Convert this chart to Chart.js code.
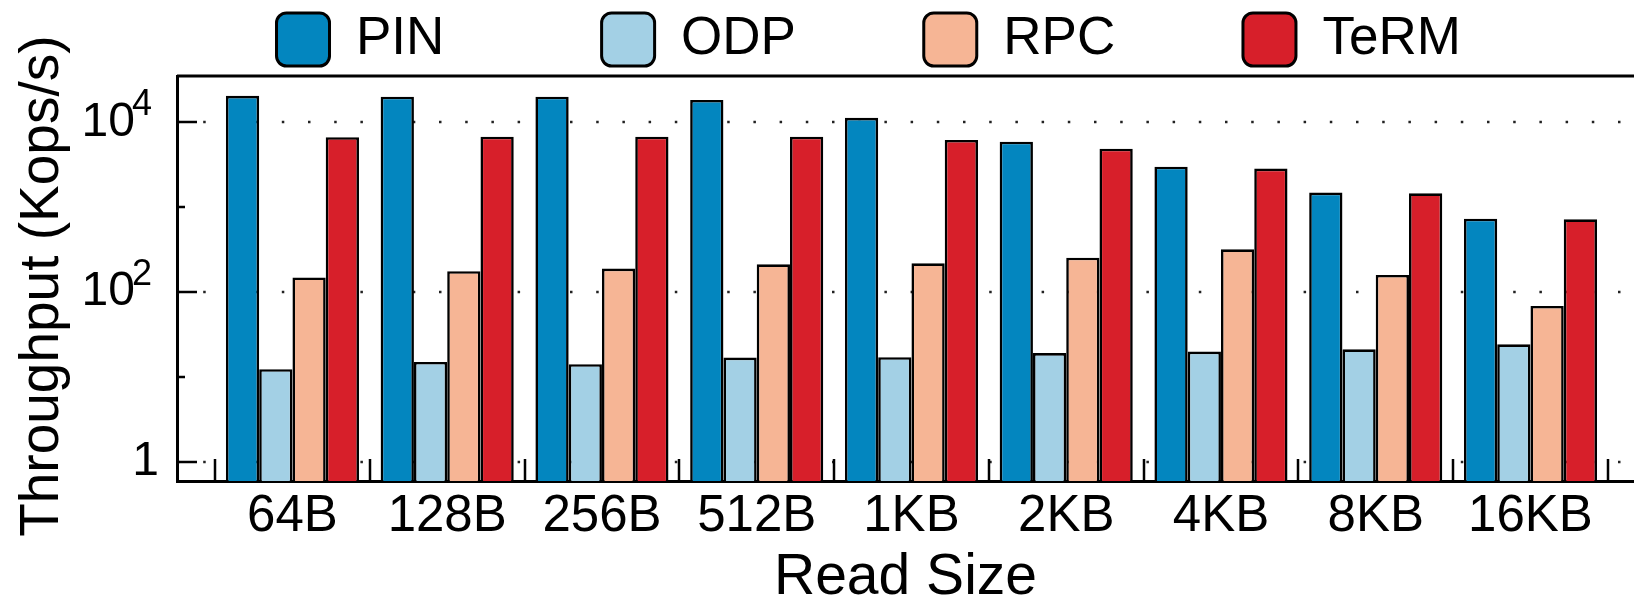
<!DOCTYPE html>
<html>
<head>
<meta charset="utf-8">
<script src="https://cdn.jsdelivr.net/npm/chart.js@4.4.1/dist/chart.umd.min.js"></script>
<style>
  html, body { margin: 0; padding: 0; background: #fff; }
</style>
</head>
<body>
<canvas id="chart" width="1634" height="601"></canvas>
<script>
// values (Kops/s)
const readSizes = ['64B', '128B', '256B', '512B', '1KB', '2KB', '4KB', '8KB', '16KB']
const pin = [20500, 20000, 20000, 18300, 11300, 5900, 3000, 1490, 735]
const odp = [12.4, 15.1, 14.2, 17, 17.2, 19.2, 20, 21.3, 24.4]
const rpc = [149, 177, 190, 213, 219, 255, 320, 160, 69]
const term = [6670, 6770, 6770, 6770, 6200, 4900, 2850, 1460, 722]

const yTicks = [1, 10, 100, 1000, 10000]
// base and exponent of the labelled decades
const yBase = { 1: '1', 100: '10', 10000: '10' }
const yExp = { 100: '2', 10000: '4' }

const series = [
	{ label: 'PIN', data: pin, color: '#0386bf' },
	{ label: 'ODP', data: odp, color: '#a3d0e5' },
	{ label: 'RPC', data: rpc, color: '#f6b595' },
	{ label: 'TeRM', data: term, color: '#d71f2a' }
]

// trailing spaces so legend entries sit on an even pitch like the original
const legendPad = [10, 8, 8, 5]
const fontFamily = "'Liberation Sans', Arial, Helvetica, sans-serif"

Chart.defaults.font.family = fontFamily
Chart.defaults.color = '#000'

/**
 * dotted grid, inward tick marks, top frame line, exponents
 */
const framePlugin = {
	id: 'frame',
	beforeDatasetsDraw(chart) {
		const { ctx, chartArea: a, scales: { y } } = chart
		ctx.save()
		ctx.strokeStyle = '#222'
		ctx.lineWidth = 2.5
		ctx.setLineDash([2.5, 23.7])
		for (const v of [1, 100, 10000]) {
			const py = Math.round(y.getPixelForValue(v))
			ctx.beginPath()
			ctx.moveTo(a.left, py)
			ctx.lineTo(a.right, py)
			ctx.stroke()
		}
		ctx.restore()
	},
	afterDatasetsDraw(chart) {
		const { ctx, chartArea: a, scales: { x, y } } = chart
		ctx.save()
		ctx.strokeStyle = '#000'
		ctx.lineWidth = 2.5
		ctx.beginPath()
		yTicks.forEach((v) => {
			const py = Math.round(y.getPixelForValue(v))
			const len = yBase[v] ? 20 : 8
			ctx.moveTo(a.left, py)
			ctx.lineTo(a.left + len, py)
		})
		for (let i = 0; i <= readSizes.length; i++) {
			const px = Math.round(x.getPixelForValue(i - 0.5))
			ctx.moveTo(px, a.bottom)
			ctx.lineTo(px, a.bottom - 22)
		}
		ctx.stroke()
		ctx.lineWidth = 3
		ctx.beginPath()
		ctx.moveTo(a.left, a.top)
		ctx.lineTo(a.right, a.top)
		ctx.stroke()

		// superscript exponents right after the "10" tick labels
		ctx.fillStyle = '#000'
		ctx.font = `36px ${fontFamily}`
		ctx.textAlign = 'left'
		ctx.textBaseline = 'alphabetic'
		Object.keys(yExp).forEach((v) => {
			const py = y.getPixelForValue(Number(v))
			ctx.fillText(yExp[v], a.left - 45, py - 7)
		})
		ctx.restore()
	}
}

new Chart(document.getElementById('chart'), {
	type: 'bar',
	data: {
		datasets: series.map((s) => ({
			label: s.label,
			data: s.data.map((v, i) => ({ x: i, y: v })),
			backgroundColor: s.color,
			borderColor: '#000',
			borderWidth: 2.6,
			categoryPercentage: 0.86,
			barPercentage: 1.0
		}))
	},
	options: {
		responsive: false,
		animation: false,
		devicePixelRatio: 1,
		layout: { padding: { top: 3, left: 0, right: 0, bottom: 0 } },
		plugins: {
			tooltip: { enabled: false },
			legend: {
				position: 'top',
				fullSize: false,
				align: 'center',
				onClick: null,
				labels: {
					boxWidth: 53,
					boxHeight: 53,
					padding: 10,
					useBorderRadius: true,
					borderRadius: 10,
					font: { size: 53 },
					color: '#000',
					generateLabels(chart) {
						return chart.data.datasets.map((ds, i) => ({
							text: ds.label + ' '.repeat(legendPad[i]),
							fillStyle: ds.backgroundColor,
							strokeStyle: '#000',
							lineWidth: 3,
							borderRadius: 10,
							hidden: false,
							datasetIndex: i
						}))
					}
				}
			}
		},
		scales: {
			x: {
				type: 'linear',
				min: -0.746,
				max: 8.669,
				offset: false,
				grid: { display: false, drawTicks: false },
				border: { display: true, color: '#000', width: 3 },
				ticks: {
					font: { size: 51 },
					color: '#000',
					padding: 5,
					maxRotation: 0,
					autoSkip: false,
					callback: (v) => readSizes[v] ?? ''
				},
				afterBuildTicks: (s) => { s.ticks = readSizes.map((_, i) => ({ value: i })) },
				afterFit: (s) => { s.height = 120 },
				title: {
					display: true,
					text: 'Read Size',
					font: { size: 57, lineHeight: 1 },
					color: '#000',
					padding: { top: 0, bottom: -6 }
				}
			},
			y: {
				type: 'logarithmic',
				min: 0.603,
				max: 35075,
				grid: { display: false, drawTicks: false },
				border: { display: true, color: '#000', width: 3 },
				ticks: {
					font: { size: 48 },
					color: '#000',
					padding: 18,
					autoSkip: false,
					callback: (v) => (yExp[v] ? yBase[v] + '\u2002' : yBase[v] ?? '')
				},
				afterBuildTicks: (s) => { s.ticks = yTicks.map((v) => ({ value: v })) },
				afterFit: (s) => { s.width = 177 },
				title: {
					display: true,
					text: 'Throughput (Kops/s) ',
					font: { size: 55 },
					color: '#000',
					padding: { top: 10, bottom: 0 }
				}
			}
		}
	},
	plugins: [framePlugin]
})
</script>
</body>
</html>
